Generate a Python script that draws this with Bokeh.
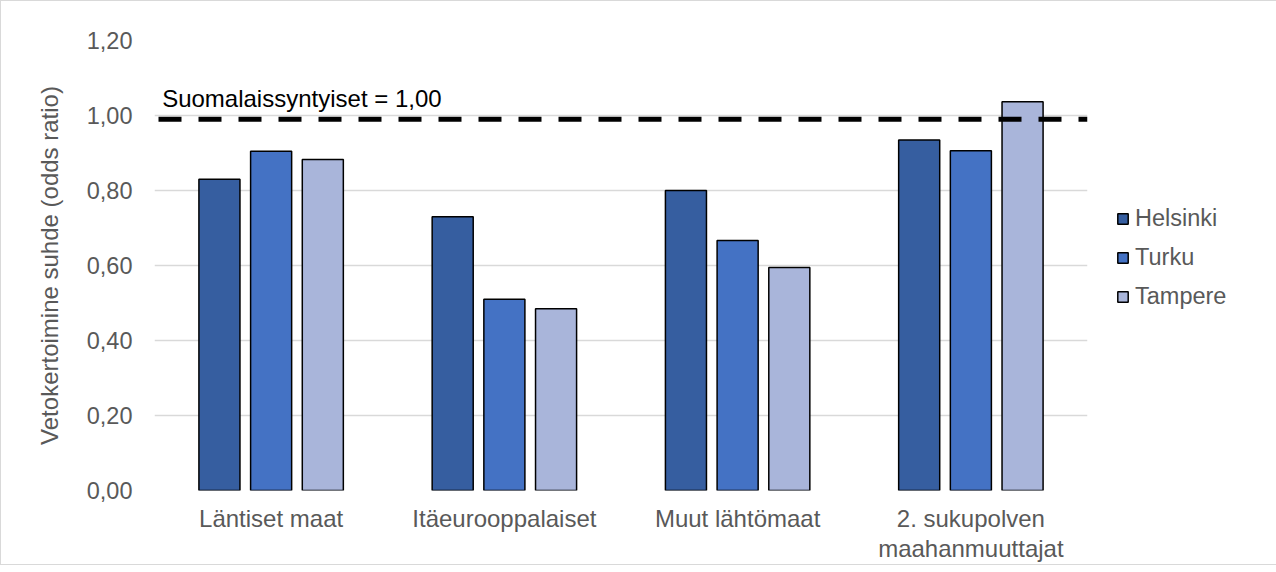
from bokeh.plotting import figure
from bokeh.models import FactorRange, Range1d, Span, Legend, LegendItem, ColumnDataSource, CategoricalAxis
from bokeh.transform import dodge
from bokeh.core.properties import value
from bokeh.embed import file_html
from bokeh.resources import INLINE

# ---- data ----
categories = ["Läntiset maat", "Itäeurooppalaiset", "Muut lähtömaat", "2. sukupolven"]
category_second_line = [" ", "  ", "   ", "maahanmuuttajat"]
series_names = ["Helsinki", "Turku", "Tampere"]
helsinki = [0.83, 0.73, 0.80, 0.935]
turku = [0.905, 0.51, 0.667, 0.906]
tampere = [0.883, 0.485, 0.595, 1.037]
reference_value = 0.99
reference_label = "Suomalaissyntyiset = 1,00"
y_ticks = [0.0, 0.2, 0.4, 0.6, 0.8, 1.0, 1.2]
y_tick_labels = ["0,00", "0,20", "0,40", "0,60", "0,80", "1,00", "1,20"]
y_axis_title = "Vetokertoimine suhde (odds ratio)"

colors = ["#365EA0", "#4472C4", "#A9B5DA"]
FONT = "Liberation Sans"
GRAY = "#595959"

source = ColumnDataSource(dict(cat=categories, Helsinki=helsinki, Turku=turku, Tampere=tampere))

p = figure(
    x_range=FactorRange(*categories, range_padding=0),
    y_range=Range1d(0, 1.2),
    frame_width=933, frame_height=450,
    min_border_left=153, min_border_top=39, min_border_right=180, min_border_bottom=60,
    output_backend="svg", toolbar_location=None,
)
p.extra_x_ranges = {"line2": FactorRange(*category_second_line, range_padding=0)}
p.styles = {"border": "1px solid #d9d9d9"}
p.outline_line_color = None
p.background_fill_color = "white"
p.border_fill_color = "white"

offsets = [-0.2216, 0.0, 0.2216]
renderers = []
for name, off, col in zip(series_names, offsets, colors):
    r = p.vbar(x=dodge("cat", off, range=p.x_range), top=name, width=0.176, bottom=0,
               source=source, fill_color=col, line_color="black", line_width=1.5)
    renderers.append(r)

# reference line
span = Span(location=reference_value, dimension="width", line_color="black",
            line_width=5, line_dash="23 17", line_dash_offset=36)
p.add_layout(span)
p.text(x=[categories[0]], y=[1.046], text=[reference_label], x_offset=-109,
       text_font=value(FONT), text_font_size="24px", text_color="black",
       text_align="left", text_baseline="alphabetic")

# grid
p.xgrid.grid_line_color = None
p.ygrid.grid_line_color = "#d9d9d9"
p.ygrid.grid_line_width = 1.5
p.ygrid.ticker = y_ticks

# y axis
p.yaxis.ticker = y_ticks
p.yaxis.major_label_overrides = {t: l for t, l in zip(y_ticks, y_tick_labels)}
p.yaxis.axis_line_color = None
p.yaxis.major_tick_line_color = None
p.yaxis.minor_tick_line_color = None
p.yaxis.major_label_standoff = 16
p.yaxis.major_label_text_font = FONT
p.yaxis.major_label_text_font_size = "23.5px"
p.yaxis.major_label_text_color = GRAY
p.yaxis.axis_label = y_axis_title
p.yaxis.axis_label_text_font = FONT
p.yaxis.axis_label_text_font_size = "24px"
p.yaxis.axis_label_text_font_style = "normal"
p.yaxis.axis_label_text_color = GRAY
p.yaxis.axis_label_standoff = 21


def style_xaxis(ax, standoff):
    ax.axis_line_color = None
    ax.major_tick_line_color = None
    ax.minor_tick_line_color = None
    ax.major_label_standoff = standoff
    ax.major_label_text_font = FONT
    ax.major_label_text_font_size = "24px"
    ax.major_label_text_color = GRAY


style_xaxis(p.xaxis[0], 8)

# second line of category labels
ax2 = CategoricalAxis(x_range_name="line2")
style_xaxis(ax2, -6)
p.add_layout(ax2, "below")

legend = Legend(
    items=[LegendItem(label=n, renderers=[r]) for n, r in zip(series_names, renderers)],
    location=(29, 180),
    orientation="vertical",
    glyph_width=13, glyph_height=13,
    label_text_font=FONT, label_text_font_size="23.5px", label_text_color=GRAY,
    label_standoff=6, label_height=26, spacing=12,
    padding=10, margin=0,
    border_line_color=None, background_fill_alpha=0,
)
p.add_layout(legend, "right")

open("out.html", "w").write(file_html(p, INLINE))
